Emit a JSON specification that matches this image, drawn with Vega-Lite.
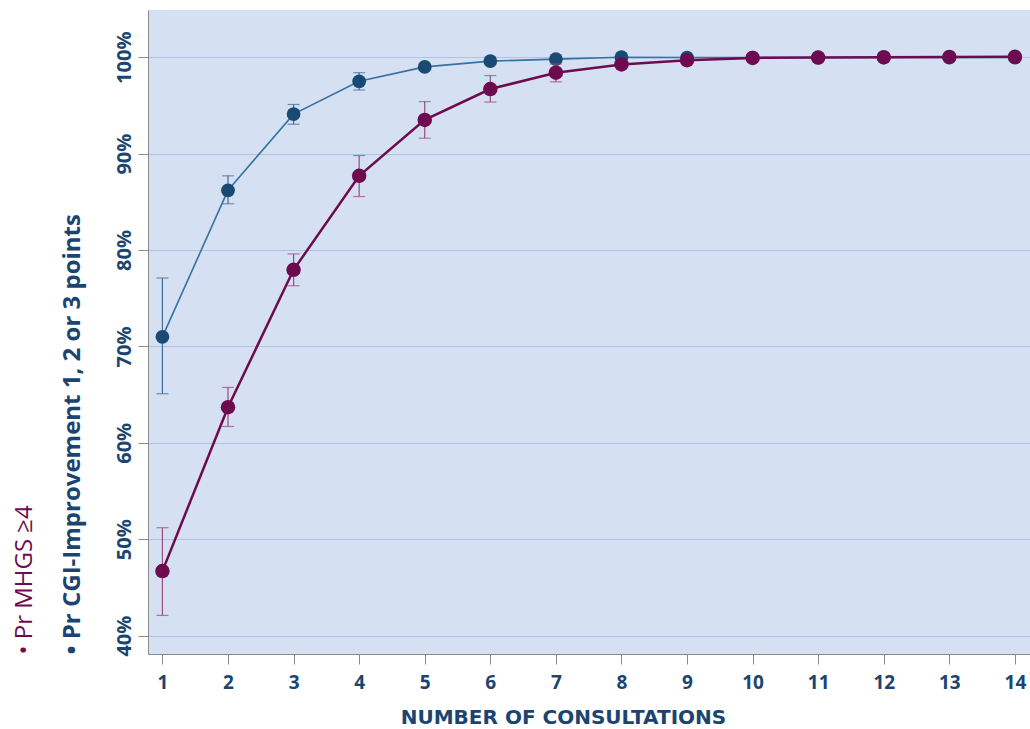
{
  "$schema": "https://vega.github.io/schema/vega-lite/v6.json",
  "width": 882,
  "height": 644,
  "autosize": {"type": "none"},
  "padding": {"left": 148, "top": 10, "right": 0, "bottom": 75},
  "background": "white",
  "config": {
    "view": {"fill": "#d5e0f2", "stroke": null}
  },
  "data": {
    "values": [
      {"series": "CGI", "x": 1, "p": 71.0, "lo": 65.1, "hi": 77.1},
      {"series": "CGI", "x": 2, "p": 86.2, "lo": 84.8, "hi": 87.7},
      {"series": "CGI", "x": 3, "p": 94.1, "lo": 93.05, "hi": 95.1},
      {"series": "CGI", "x": 4, "p": 97.5, "lo": 96.6, "hi": 98.4},
      {"series": "CGI", "x": 5, "p": 99.0},
      {"series": "CGI", "x": 6, "p": 99.6},
      {"series": "CGI", "x": 7, "p": 99.8},
      {"series": "CGI", "x": 8, "p": 100.0},
      {"series": "CGI", "x": 9, "p": 99.97},
      {"series": "CGI", "x": 10, "p": 99.97},
      {"series": "CGI", "x": 11, "p": 99.97},
      {"series": "CGI", "x": 12, "p": 99.97},
      {"series": "CGI", "x": 13, "p": 99.97},
      {"series": "CGI", "x": 14, "p": 99.97},
      {"series": "MHGS", "x": 1, "p": 46.7, "lo": 42.1, "hi": 51.2},
      {"series": "MHGS", "x": 2, "p": 63.7, "lo": 61.7, "hi": 65.75},
      {"series": "MHGS", "x": 3, "p": 77.95, "lo": 76.3, "hi": 79.6},
      {"series": "MHGS", "x": 4, "p": 87.7, "lo": 85.55, "hi": 89.8},
      {"series": "MHGS", "x": 5, "p": 93.5, "lo": 91.6, "hi": 95.4},
      {"series": "MHGS", "x": 6, "p": 96.7, "lo": 95.35, "hi": 98.1},
      {"series": "MHGS", "x": 7, "p": 98.4, "lo": 97.45, "hi": 99.3},
      {"series": "MHGS", "x": 8, "p": 99.25},
      {"series": "MHGS", "x": 9, "p": 99.7},
      {"series": "MHGS", "x": 10, "p": 99.93},
      {"series": "MHGS", "x": 11, "p": 99.97},
      {"series": "MHGS", "x": 12, "p": 100.0},
      {"series": "MHGS", "x": 13, "p": 100.03},
      {"series": "MHGS", "x": 14, "p": 100.05}
    ]
  },
  "encoding": {
    "x": {
      "field": "x",
      "type": "quantitative",
      "scale": {"domain": [0.78, 14.23], "nice": false, "zero": false},
      "title": "NUMBER OF CONSULTATIONS",
      "axis": {
        "values": [1, 2, 3, 4, 5, 6, 7, 8, 9, 10, 11, 12, 13, 14],
        "format": "d",
        "grid": false,
        "labelFont": "Open Sans",
        "labelFontWeight": "bold",
        "labelFontSize": 19,
        "labelColor": "#1b4571",
        "labelPadding": 9,
        "labelFlush": false,
        "tickSize": 10,
        "tickColor": "#8a8a8a",
        "domainColor": "#8a8a8a",
        "titleFont": "DejaVu Sans",
        "titleFontWeight": "bold",
        "titleFontSize": 20,
        "titleColor": "#1b4571",
        "titlePadding": 15,
        "titleX": 415
      }
    }
  },
  "layer": [
    {
      "transform": [{"filter": "datum.series === 'CGI'"}],
      "layer": [
        {
          "transform": [{"filter": "datum.lo != null"}],
          "mark": {"type": "rule", "color": "#3f6c99", "strokeWidth": 1.2},
          "encoding": {
            "y": {"field": "lo", "type": "quantitative", "scale": {"domain": [38.1, 104.9], "nice": false, "zero": false}, "title": "• Pr CGI-Improvement 1, 2 or 3 points",
              "axis": {"orient": "left", "values": [40, 50, 60, 70, 80, 90, 100], "labelExpr": "datum.value + '%'", "labelAngle": 270, "labelAlign": "center", "labelBaseline": "bottom", "labelOverlap": false, "labelFlush": false, "labelFont": "Open Sans", "labelFontWeight": "bold", "labelFontSize": 20, "labelColor": "#1b4571", "labelPadding": 4, "tickSize": 10, "tickColor": "#8a8a8a", "domainColor": "#8a8a8a", "grid": true, "gridColor": "#a9c3ec", "gridWidth": 1, "titleFont": "Open Sans", "titleFontWeight": "bold", "titleFontSize": 24, "titleColor": "#1b4571", "titleAnchor": "start", "titleAngle": 270, "titleBaseline": "bottom", "titlePadding": 30}},
            "y2": {"field": "hi"}
          }
        },
        {
          "transform": [{"filter": "datum.lo != null"}],
          "mark": {"type": "tick", "orient": "horizontal", "color": "#3f6c99", "thickness": 1.2},
          "encoding": {
            "y": {"field": "lo", "type": "quantitative", "scale": {"domain": [38.1, 104.9], "nice": false, "zero": false}, "title": "• Pr CGI-Improvement 1, 2 or 3 points"},
            "size": {"value": 12}
          }
        },
        {
          "transform": [{"filter": "datum.hi != null"}],
          "mark": {"type": "tick", "orient": "horizontal", "color": "#3f6c99", "thickness": 1.2},
          "encoding": {
            "y": {"field": "hi", "type": "quantitative", "scale": {"domain": [38.1, 104.9], "nice": false, "zero": false}, "title": "• Pr CGI-Improvement 1, 2 or 3 points"},
            "size": {"value": 12}
          }
        },
        {
          "mark": {"type": "line", "color": "#3572a3", "strokeWidth": 1.6},
          "encoding": {
            "y": {"field": "p", "type": "quantitative", "scale": {"domain": [38.1, 104.9], "nice": false, "zero": false}, "title": "• Pr CGI-Improvement 1, 2 or 3 points"}
          }
        },
        {
          "mark": {"type": "point", "filled": true, "opacity": 1, "color": "#184a74", "size": 190},
          "encoding": {
            "y": {"field": "p", "type": "quantitative", "scale": {"domain": [38.1, 104.9], "nice": false, "zero": false}, "title": "• Pr CGI-Improvement 1, 2 or 3 points"}
          }
        }
      ]
    },
    {
      "transform": [{"filter": "datum.series === 'MHGS'"}],
      "layer": [
        {
          "transform": [{"filter": "datum.lo != null"}],
          "mark": {"type": "rule", "color": "#9a4a7e", "strokeWidth": 1.2},
          "encoding": {
            "y": {"field": "lo", "type": "quantitative", "scale": {"domain": [38.1, 104.9], "nice": false, "zero": false}, "title": "• Pr MHGS ≥4",
              "axis": {"orient": "left", "labels": false, "ticks": false, "domain": false, "grid": false, "titleFont": "Open Sans", "titleFontWeight": 500, "titleFontSize": 24, "titleColor": "#6e0b50", "titleAnchor": "start", "titleAngle": 270, "titleBaseline": "bottom", "titlePadding": 112}},
            "y2": {"field": "hi"}
          }
        },
        {
          "transform": [{"filter": "datum.lo != null"}],
          "mark": {"type": "tick", "orient": "horizontal", "color": "#9a4a7e", "thickness": 1.2},
          "encoding": {
            "y": {"field": "lo", "type": "quantitative", "scale": {"domain": [38.1, 104.9], "nice": false, "zero": false}, "title": "• Pr MHGS ≥4"},
            "size": {"value": 12}
          }
        },
        {
          "transform": [{"filter": "datum.hi != null"}],
          "mark": {"type": "tick", "orient": "horizontal", "color": "#9a4a7e", "thickness": 1.2},
          "encoding": {
            "y": {"field": "hi", "type": "quantitative", "scale": {"domain": [38.1, 104.9], "nice": false, "zero": false}, "title": "• Pr MHGS ≥4"},
            "size": {"value": 12}
          }
        },
        {
          "mark": {"type": "line", "color": "#6e0b50", "strokeWidth": 2.5},
          "encoding": {
            "y": {"field": "p", "type": "quantitative", "scale": {"domain": [38.1, 104.9], "nice": false, "zero": false}, "title": "• Pr MHGS ≥4"}
          }
        },
        {
          "mark": {"type": "point", "filled": true, "opacity": 1, "color": "#6e0b50", "size": 210},
          "encoding": {
            "y": {"field": "p", "type": "quantitative", "scale": {"domain": [38.1, 104.9], "nice": false, "zero": false}, "title": "• Pr MHGS ≥4"}
          }
        }
      ]
    }
  ],
  "resolve": {"scale": {"y": "independent"}}
}
